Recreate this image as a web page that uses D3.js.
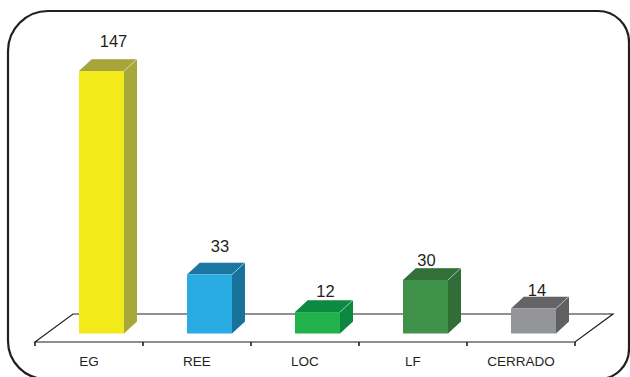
<!DOCTYPE html>
<html>
<head>
<meta charset="utf-8">
<script src="https://cdn.jsdelivr.net/npm/d3@7"></script>
<style>
  html, body { margin: 0; padding: 0; background: #fff; }
  svg { display: block; }
</style>
</head>
<body>
<svg id="chart" width="630" height="377"></svg>
<script>
// Data
const categories = ["EG", "REE", "LOC", "LF", "CERRADO"];
const values = [147, 33, 12, 30, 14];

// Colours per bar: front, side, top
const frontColors = ["#F2EA1A", "#29ACE3", "#21B24B", "#40924A", "#939598"];
const sideColors  = ["#A6A83A", "#17739C", "#0B8740", "#316E37", "#5F6062"];
const topColors   = ["#A5A539", "#1B77A1", "#0C8A42", "#346F39", "#646466"];

// Small hand nudges for the value labels (dx, dy)
const labelNudge = [[5, -6], [3.5, -4.3], [1, 3], [-6, 4.3], [-3.5, 5.2]];

const ink = "#231f20";
const svg = d3.select("#chart");

// Frame with rounded corners
const L = 8, T = 11, R = 629, B = 379;
const rTL = 40, rTR = 31, rBR = 30, rBL = 38;
const frame = d3.path();
frame.moveTo(L + rTL, T);
frame.lineTo(R - rTR, T);
frame.arcTo(R, T, R, T + rTR, rTR);
frame.lineTo(R, B - rBR);
frame.arcTo(R, B, R - rBR, B, rBR);
frame.lineTo(L + rBL, B);
frame.arcTo(L, B, L, B - rBL, rBL);
frame.lineTo(L, T + rTL);
frame.arcTo(L, T, L + rTL, T, rTL);
frame.closePath();
svg.append("path").attr("d", frame.toString())
  .attr("fill", "none").attr("stroke", ink).attr("stroke-width", 2.2);

// Scales
const x = d3.scaleBand().domain(categories).range([35, 575]).padding(0);
const y = d3.scaleLinear().domain([0, 147]).range([333.5, 71]);

// Floor plane
const floorFront = 342, floorDX = 38, floorDY = -28;
const fx0 = x.range()[0], fx1 = x.range()[1];
svg.append("path")
  .attr("d", `M${fx0},${floorFront} L${fx0 + floorDX},${floorFront + floorDY} L${fx1 + floorDX},${floorFront + floorDY} L${fx1},${floorFront} Z`)
  .attr("fill", "none").attr("stroke", ink).attr("stroke-width", 1.2);

// Bars
const barOffset = 44, barW = 45, dX = 13, dY = -12;
const bars = svg.append("g").selectAll("g").data(categories).join("g");

bars.each(function(c, i) {
  const g = d3.select(this);
  const x0 = x(c) + barOffset, x1 = x0 + barW;
  const yTop = y(values[i]), yBot = y(0);
  // side face
  g.append("path")
    .attr("d", `M${x1},${yTop} L${x1 + dX},${yTop + dY} L${x1 + dX},${yBot + dY} L${x1},${yBot} Z`)
    .attr("fill", sideColors[i]);
  // top face
  g.append("path")
    .attr("d", `M${x0},${yTop} L${x0 + dX},${yTop + dY} L${x1 + dX},${yTop + dY} L${x1},${yTop} Z`)
    .attr("fill", topColors[i]);
  // front face
  g.append("rect")
    .attr("x", x0).attr("y", yTop)
    .attr("width", barW).attr("height", yBot - yTop)
    .attr("fill", frontColors[i]);
  // light edge on the top face
  g.append("path")
    .attr("d", `M${x0 + dX},${yTop + dY} L${x1 + dX},${yTop + dY} L${x1},${yTop}`)
    .attr("fill", "none").attr("stroke", "rgba(255,255,255,0.55)").attr("stroke-width", 0.8);
  // value label
  g.append("text")
    .attr("x", (x0 + x1) / 2 + 7 + labelNudge[i][0])
    .attr("y", yTop - 18 + labelNudge[i][1])
    .attr("text-anchor", "middle")
    .attr("font-family", "'Liberation Sans', Arial, sans-serif")
    .attr("font-size", 16.5)
    .attr("fill", ink)
    .text(values[i]);
});

// Front edge ticks and category labels
const axisG = svg.append("g").attr("transform", `translate(0,${floorFront})`);
const edges = d3.range(categories.length + 1).map(k => fx0 + k * x.step());
axisG.selectAll("line.edge").data(edges).join("line")
  .attr("class", "edge")
  .attr("x1", d => d).attr("x2", d => d)
  .attr("y1", 0).attr("y2", 4)
  .attr("stroke", ink).attr("stroke-width", 1.6);
axisG.selectAll("text.cat").data(categories).join("text")
  .attr("class", "cat")
  .attr("x", d => x(d) + x.bandwidth() / 2)
  .attr("y", 23.5)
  .attr("text-anchor", "middle")
  .attr("font-family", "'Liberation Sans', Arial, sans-serif")
  .attr("font-size", 13.5)
  .attr("fill", ink)
  .text(d => d);
</script>
</body>
</html>
